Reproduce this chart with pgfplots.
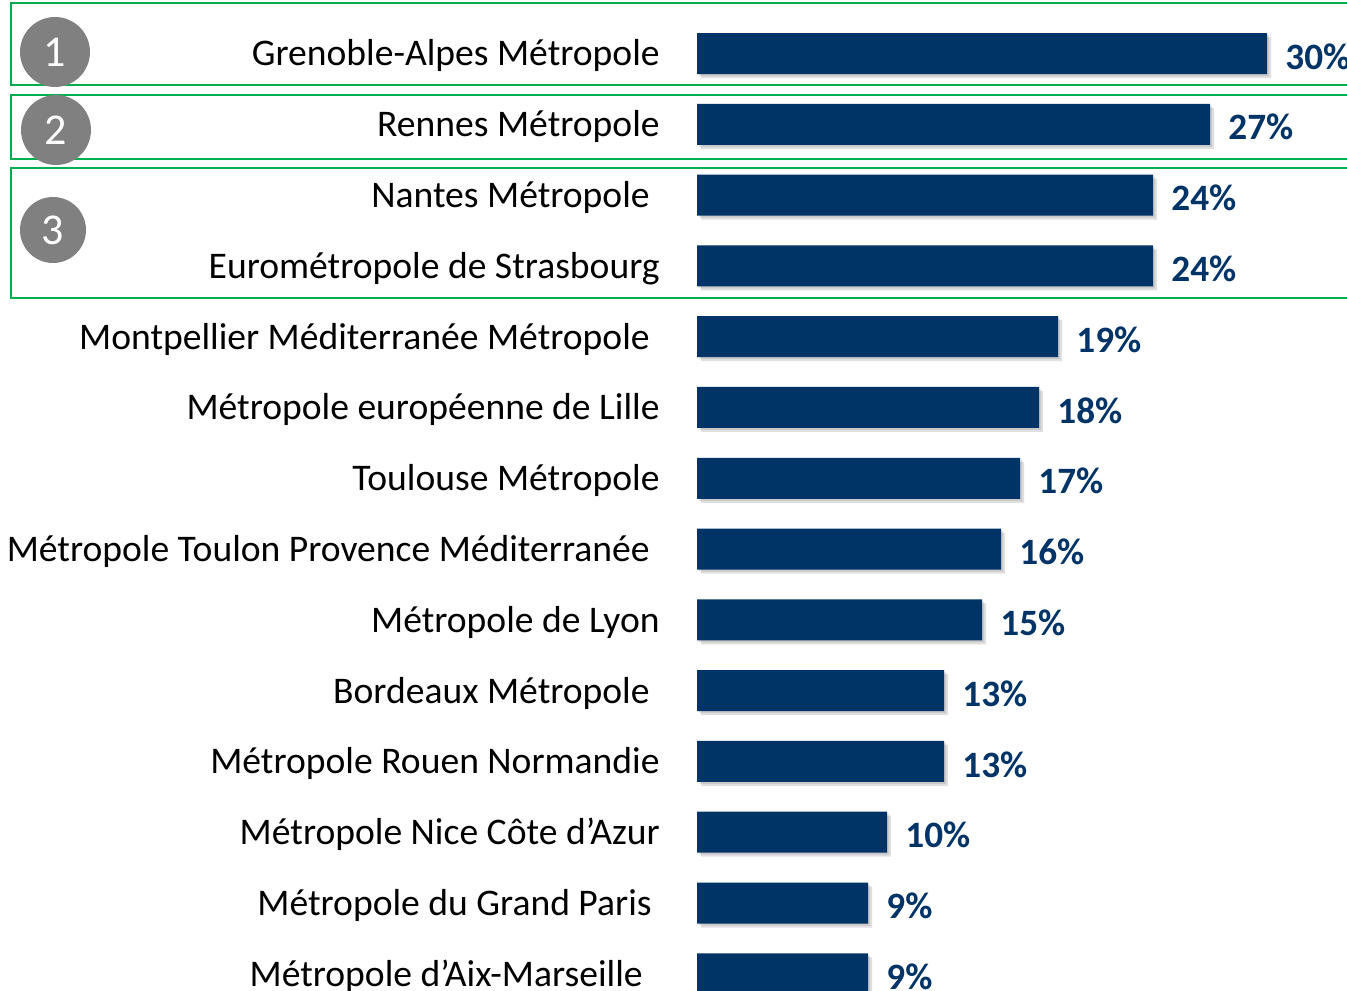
\documentclass[border=0pt]{standalone}
\usepackage{fontspec}
\setmainfont{Carlito}
\usepackage{pgfplots}
\pgfplotsset{compat=1.18}
\definecolor{navy}{RGB}{0,51,102}
\definecolor{grn}{RGB}{0,176,80}
\definecolor{circ}{RGB}{128,128,128}
\begin{document}
\begin{tikzpicture}
\path[use as bounding box] (0,0) rectangle (673.5pt,495pt);
\clip (0,0) rectangle (673.5pt,495pt);
\draw[grn, line width=1.2pt] (5.5pt,452.5pt) rectangle (700pt,493.5pt);
\draw[grn, line width=1.2pt] (5.5pt,415.5pt) rectangle (700pt,447.5pt);
\draw[grn, line width=1.2pt] (5.5pt,346pt) rectangle (700pt,411pt);
\begin{axis}[
  at={(348.5pt,0pt)}, anchor=south west,
  scale only axis, width=325pt, height=495pt,
  xmin=0, xmax=34.2105, ymin=-0.7558, ymax=13.229, y dir=reverse,
  axis line style={draw=none},
  xtick=\empty,
  ytick={0,...,13},
  yticklabels={
    {Grenoble-Alpes Métropole},
    {Rennes Métropole},
    {Nantes Métropole\kern5pt},
    {Eurométropole de Strasbourg},
    {Montpellier Méditerranée Métropole\kern5pt},
    {Métropole européenne de Lille},
    {Toulouse Métropole},
    {Métropole Toulon Provence Méditerranée\kern5pt},
    {Métropole de Lyon},
    {Bordeaux Métropole\kern5pt},
    {Métropole Rouen Normandie},
    {Métropole Nice Côte d’Azur},
    {Métropole du Grand Paris\kern4pt},
    {Métropole d’Aix-Marseille\kern8.5pt}},
  ytick style={draw=none},
  yticklabel style={anchor=base east, inner sep=0pt, xshift=-18.5pt, yshift=-6.2pt,
    font=\fontsize{18.8}{22}\selectfont, text=black},
  /pgf/number format/assume math mode=true,
  bar width=20.5pt,
  clip=true,
]
\addplot[xbar, bar shift=0pt, draw=none, fill=black, opacity=0.10, xshift=1pt, yshift=-1pt]
  coordinates {(30,0) (27,1) (24,2) (24,3) (19,4) (18,5) (17,6) (16,7) (15,8) (13,9) (13,10) (10,11) (9,12) (9,13)};
\addplot[xbar, bar shift=0pt, draw=none, fill=black, opacity=0.12, xshift=2pt, yshift=-2pt]
  coordinates {(30,0) (27,1) (24,2) (24,3) (19,4) (18,5) (17,6) (16,7) (15,8) (13,9) (13,10) (10,11) (9,12) (9,13)};
\addplot[xbar, bar shift=0pt, draw=none, fill=navy,
  nodes near coords={\pgfmathprintnumber{\pgfplotspointmeta}\%},
  every node near coord/.append style={anchor=west, inner sep=0pt, xshift=9pt, yshift=-1.5pt,
    font=\fontsize{18.6}{22}\selectfont\bfseries, text=navy}]
  coordinates {(30,0) (27,1) (24,2) (24,3) (19,4) (18,5) (17,6) (16,7) (15,8) (13,9) (13,10) (10,11) (9,12) (9,13)};
\end{axis}
\fill[circ] (27.5pt,469pt) circle (17.5pt);
\fill[circ] (28pt,430pt) circle (17.5pt);
\fill[circ] (26.5pt,380pt) circle (16.5pt);
\node[text=white, font=\fontsize{22}{26}\selectfont] at (27.5pt,469pt) {1};
\node[text=white, font=\fontsize{22}{26}\selectfont] at (28pt,430pt) {2};
\node[text=white, font=\fontsize{22}{26}\selectfont] at (26.5pt,380pt) {3};
\end{tikzpicture}
\end{document}
